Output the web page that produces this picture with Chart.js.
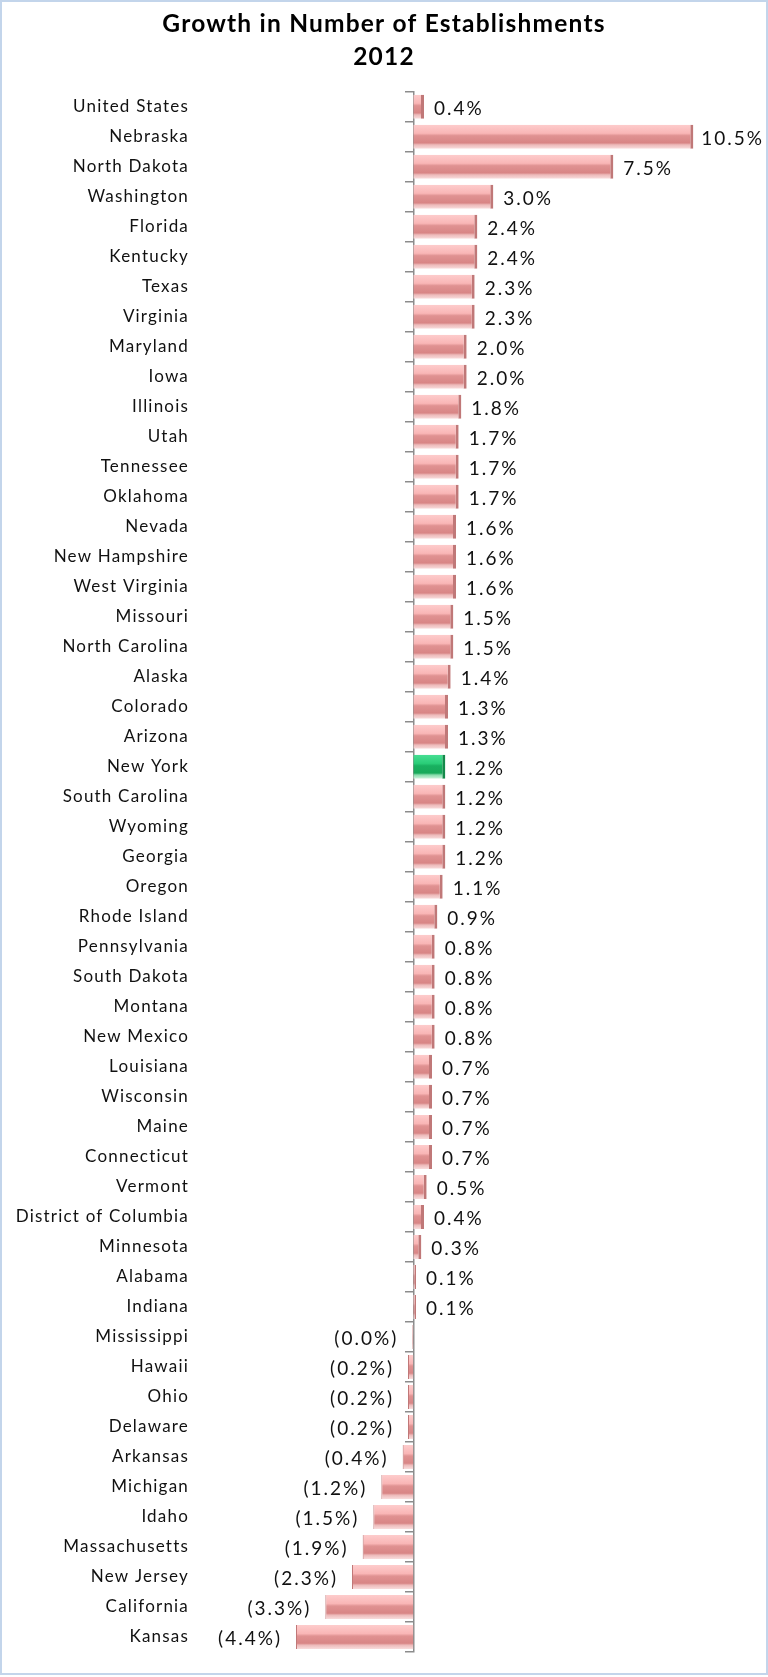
<!DOCTYPE html>
<html>
<head>
<meta charset="utf-8">
<script src="https://cdn.jsdelivr.net/npm/chart.js@4/dist/chart.umd.min.js"></script>
<style>
  html, body { margin: 0; padding: 0; background: #ffffff; }
  #wrap { width: 768px; height: 1677px; position: relative; }
  canvas { display: block; }
</style>
</head>
<body>
<div id="wrap"><canvas id="c" width="768" height="1677"></canvas></div>
<script>
const titleLines = ['Growth in Number of Establishments', '2012'];

const categories = [
  'United States', 'Nebraska', 'North Dakota', 'Washington', 'Florida', 'Kentucky',
  'Texas', 'Virginia', 'Maryland', 'Iowa', 'Illinois', 'Utah', 'Tennessee', 'Oklahoma',
  'Nevada', 'New Hampshire', 'West Virginia', 'Missouri', 'North Carolina', 'Alaska',
  'Colorado', 'Arizona', 'New York', 'South Carolina', 'Wyoming', 'Georgia', 'Oregon',
  'Rhode Island', 'Pennsylvania', 'South Dakota', 'Montana', 'New Mexico', 'Louisiana',
  'Wisconsin', 'Maine', 'Connecticut', 'Vermont', 'District of Columbia', 'Minnesota',
  'Alabama', 'Indiana', 'Mississippi', 'Hawaii', 'Ohio', 'Delaware', 'Arkansas',
  'Michigan', 'Idaho', 'Massachusetts', 'New Jersey', 'California', 'Kansas'
];

const growthValues = [
  0.4, 10.5, 7.5, 3.0, 2.4, 2.4,
  2.3, 2.3, 2.0, 2.0, 1.8, 1.7, 1.7, 1.7,
  1.6, 1.6, 1.6, 1.5, 1.5, 1.4,
  1.3, 1.3, 1.2, 1.2, 1.2, 1.2, 1.1,
  0.9, 0.8, 0.8, 0.8, 0.8, 0.7,
  0.7, 0.7, 0.7, 0.5, 0.4, 0.3,
  0.1, 0.1, -0.04, -0.2, -0.2, -0.2, -0.4,
  -1.2, -1.5, -1.9, -2.3, -3.3, -4.4
];

const highlightCategory = 'New York';

function formatValue(v) {
  return v < 0 ? '(' + Math.abs(v).toFixed(1) + '%)' : v.toFixed(1) + '%';
}

const BAR_PCT = 0.8;

function barFill(context) {
  const chart = context.chart;
  const ys = chart.scales.y;
  const i = context.dataIndex;
  const green = categories[i] === highlightCategory;
  const flat = green ? '#22c46c' : '#f0a6a6';
  if (!ys || context.type !== 'data') return flat;
  const yc = ys.getPixelForValue(i);
  const band = Math.abs(ys.getPixelForValue(1) - ys.getPixelForValue(0));
  if (!isFinite(yc) || !isFinite(band) || band <= 0) return flat;
  const bh = band * BAR_PCT;
  const g = chart.ctx.createLinearGradient(0, yc - bh / 2, 0, yc + bh / 2);
  if (green) {
    g.addColorStop(0, '#46de93');
    g.addColorStop(0.36, '#2acd78');
    g.addColorStop(0.46, '#19b060');
    g.addColorStop(0.76, '#17a95a');
    g.addColorStop(0.84, '#86dcab');
    g.addColorStop(1, '#d2f3df');
  } else {
    g.addColorStop(0, '#fdcccc');
    g.addColorStop(0.36, '#f9b6b6');
    g.addColorStop(0.46, '#e09292');
    g.addColorStop(0.76, '#d88585');
    g.addColorStop(0.84, '#edbaba');
    g.addColorStop(1, '#f8dcdc');
  }
  return g;
}

const framePlugin = {
  id: 'frame',
  beforeDraw(chart) {
    const ctx = chart.ctx;
    ctx.save();
    ctx.fillStyle = '#ffffff';
    ctx.fillRect(0, 0, chart.width, chart.height);
    ctx.strokeStyle = '#c3d5eb';
    ctx.lineWidth = 2;
    ctx.strokeRect(1, 1, chart.width - 2, chart.height - 4);
    ctx.restore();
    try { ctx.letterSpacing = '1.2px'; } catch (e) {}
  },
  afterDraw(chart) {
    try { chart.ctx.letterSpacing = '0px'; } catch (e) {}
  }
};

const valueLabels = {
  id: 'valueLabels',
  afterDatasetsDraw(chart) {
    const ctx = chart.ctx;
    const meta = chart.getDatasetMeta(0);
    ctx.save();
    ctx.font = '19px Lato';
    try { ctx.letterSpacing = '2px'; } catch (e) {}
    ctx.fillStyle = '#111111';
    ctx.textBaseline = 'middle';
    meta.data.forEach((bar, i) => {
      const v = growthValues[i];
      const txt = formatValue(v);
      if (v >= 0) {
        const w = ctx.measureText(txt).width;
        const x = Math.min(bar.x + 10, chart.width - 4 - w);
        ctx.textAlign = 'left';
        ctx.fillText(txt, x, bar.y + 2);
      } else {
        ctx.textAlign = 'right';
        ctx.fillText(txt, bar.x - 14, bar.y + 2);
      }
    });
    ctx.restore();
  }
};

const catFont = { family: 'Lato', size: 17 };

new Chart(document.getElementById('c'), {
  type: 'bar',
  data: {
    labels: categories,
    datasets: [{
      data: growthValues,
      yAxisID: 'y',
      backgroundColor: barFill,
      borderColor: (c) => categories[c.dataIndex] === highlightCategory ? '#138a4a' : '#c07878',
      borderWidth: (c) => (growthValues[c.dataIndex] >= 0
        ? { top: 0, bottom: 0, left: 0, right: 3 }
        : { top: 0, bottom: 0, left: 1, right: 0 }),
      borderSkipped: false,
      barPercentage: BAR_PCT,
      categoryPercentage: 1.0
    }]
  },
  options: {
    indexAxis: 'y',
    responsive: false,
    animation: false,
    devicePixelRatio: 1,
    layout: { padding: { left: 0, right: 0, top: 0, bottom: 25 } },
    plugins: {
      legend: { display: false },
      tooltip: { enabled: false },
      title: {
        display: true,
        text: titleLines,
        color: '#000000',
        font: { family: 'Lato', size: 24.5, weight: 'bold', lineHeight: 1.36 },
        padding: { top: 7, bottom: 18 }
      }
    },
    scales: {
      x: {
        type: 'linear',
        display: false,
        min: -8,
        max: 13.3
      },
      y: {
        type: 'category',
        position: { x: 0 },
        offset: true,
        ticks: { display: false },
        grid: {
          offset: true,
          drawOnChartArea: false,
          drawTicks: true,
          tickLength: 8,
          color: '#8c8c8c',
          lineWidth: 1.5
        },
        border: { display: true, color: '#8c8c8c', width: 1.5 }
      },
      y2: {
        type: 'category',
        position: 'left',
        offset: true,
        grid: { display: false, drawTicks: false },
        border: { display: false },
        ticks: {
          color: '#111111',
          font: catFont,
          padding: 11,
          autoSkip: false
        },
        afterFit(scale) { scale.width = 200; }
      }
    }
  },
  plugins: [framePlugin, valueLabels]
});
</script>
</body>
</html>
